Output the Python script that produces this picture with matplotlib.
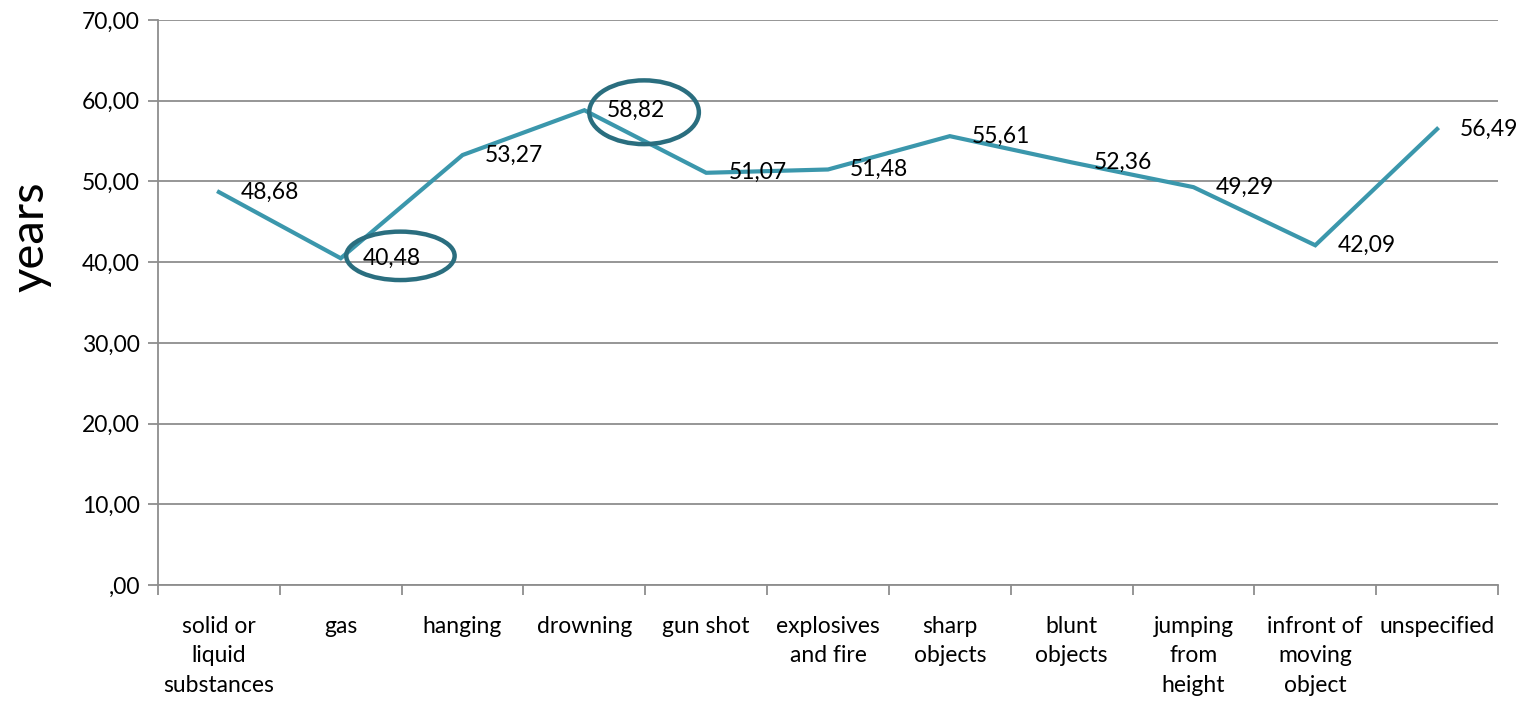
import matplotlib
matplotlib.use("Agg")
import matplotlib.pyplot as plt
from matplotlib.patches import Ellipse

plt.rcParams['font.family'] = ['Lato', 'DejaVu Sans']

# Mean age by method
categories = ["solid or\nliquid\nsubstances", "gas", "hanging", "drowning", "gun shot",
              "explosives\nand fire", "sharp\nobjects", "blunt\nobjects",
              "jumping\nfrom\nheight", "infront of\nmoving\nobject", "unspecified"]
ages = [48.68, 40.48, 53.27, 58.82, 51.07, 51.48, 55.61, 52.36, 49.29, 42.09, 56.49]
y_ticks = [0, 10, 20, 30, 40, 50, 60, 70]
circled = [1, 3]  # labels highlighted with an ellipse

line_color = "#3b97ac"
ring_color = "#2a6e7f"
grid_color = "#8e8e8e"

fig = plt.figure(figsize=(15.36, 7.02), dpi=100)
ax = fig.add_axes([158 / 1536, 1 - 585 / 702, 1340 / 1536, 565 / 702])

x = list(range(len(categories)))
ax.plot(x, ages, color=line_color, lw=3.0, solid_joinstyle='miter', zorder=3)

# value labels to the right of each point
for xi, v in zip(x, ages):
    ax.annotate(f"{v:.2f}".replace(".", ","), (xi, v), xytext=(16, 0),
                textcoords="offset points", ha="left", va="center",
                fontsize=16.5, color="black", zorder=4)

# rings around the lowest and highest values
ring_sizes = {1: (0.89, 6.0), 3: (0.9, 7.9)}
for i in circled:
    w, h = ring_sizes[i]
    cx = x[i] + 0.49
    cy = ages[i] + (0.3 if i == 1 else -0.25)
    ax.add_patch(Ellipse((cx, cy), w, h, fill=False, ec=ring_color, lw=3.2, zorder=5))

ax.set_xlim(-0.5, len(categories) - 0.5)
ax.set_ylim(0, 70)
ax.set_yticks(y_ticks)
ax.set_yticklabels([f"{t:.2f}".replace(".", ",").lstrip("0") if t == 0 else f"{t:.2f}".replace(".", ",")
                    for t in y_ticks], fontsize=16.5)
ax.yaxis.grid(True, color=grid_color, lw=1.3)
ax.set_axisbelow(True)

# category boundaries as ticks, names in between
ax.set_xticks([i - 0.5 for i in range(len(categories) + 1)])
ax.set_xticklabels([])
ax.set_xticks(x, minor=True)
ax.set_xticklabels(categories, minor=True, fontsize=16.5, linespacing=1.5)
ax.tick_params(axis='x', which='minor', length=0, pad=22)
ax.tick_params(axis='x', which='major', length=7, width=1.3, color=grid_color)
ax.tick_params(axis='y', length=7, width=1.3, color=grid_color, pad=6)

for side in ["top", "right"]:
    ax.spines[side].set_visible(False)
for side in ["left", "bottom"]:
    ax.spines[side].set_color(grid_color)
    ax.spines[side].set_linewidth(1.3)

fig.text(30 / 1536, 1 - 237 / 702, "years", rotation=90, ha="center", va="center", fontsize=34)

fig.savefig("out.png", dpi=100)
